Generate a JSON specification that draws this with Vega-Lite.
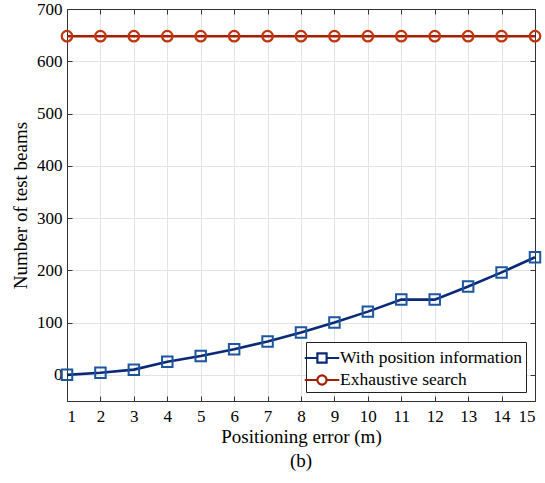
{
  "$schema": "https://vega.github.io/schema/vega-lite/v6.json",
  "width": 468,
  "height": 392,
  "autosize": {"type": "none"},
  "padding": {"left": 67, "top": 9, "right": 10, "bottom": 82},
  "background": "white",
  "title": {"text": "(b)", "orient": "bottom", "font": "Liberation Serif", "fontSize": 19, "fontWeight": "normal", "color": "black", "offset": 6},
  "data": {"values": [
    {"x": 1, "y": 0, "s": "With position information"},
    {"x": 2, "y": 4, "s": "With position information"},
    {"x": 3, "y": 10, "s": "With position information"},
    {"x": 4, "y": 25, "s": "With position information"},
    {"x": 5, "y": 36, "s": "With position information"},
    {"x": 6, "y": 49, "s": "With position information"},
    {"x": 7, "y": 64, "s": "With position information"},
    {"x": 8, "y": 81, "s": "With position information"},
    {"x": 9, "y": 100, "s": "With position information"},
    {"x": 10, "y": 121, "s": "With position information"},
    {"x": 11, "y": 144, "s": "With position information"},
    {"x": 12, "y": 144, "s": "With position information"},
    {"x": 13, "y": 169, "s": "With position information"},
    {"x": 14, "y": 196, "s": "With position information"},
    {"x": 15, "y": 225, "s": "With position information"},
    {"x": 1, "y": 648, "s": "Exhaustive search"},
    {"x": 2, "y": 648, "s": "Exhaustive search"},
    {"x": 3, "y": 648, "s": "Exhaustive search"},
    {"x": 4, "y": 648, "s": "Exhaustive search"},
    {"x": 5, "y": 648, "s": "Exhaustive search"},
    {"x": 6, "y": 648, "s": "Exhaustive search"},
    {"x": 7, "y": 648, "s": "Exhaustive search"},
    {"x": 8, "y": 648, "s": "Exhaustive search"},
    {"x": 9, "y": 648, "s": "Exhaustive search"},
    {"x": 10, "y": 648, "s": "Exhaustive search"},
    {"x": 11, "y": 648, "s": "Exhaustive search"},
    {"x": 12, "y": 648, "s": "Exhaustive search"},
    {"x": 13, "y": 648, "s": "Exhaustive search"},
    {"x": 14, "y": 648, "s": "Exhaustive search"},
    {"x": 15, "y": 648, "s": "Exhaustive search"}
  ]},
  "encoding": {
    "x": {"field": "x", "type": "quantitative", "scale": {"domain": [1, 15], "nice": false, "zero": false}, "axis": null},
    "y": {"field": "y", "type": "quantitative", "scale": {"domain": [-50, 700], "nice": false, "zero": false}, "axis": null}
  },
  "layer": [
    {
      "mark": {"type": "rule", "opacity": 0},
      "encoding": {
        "x": {"field": "x", "type": "quantitative", "axis": {"orient": "bottom", "values": [1,2,3,4,5,6,7,8,9,10,11,12,13,14,15], "title": "Positioning error (m)", "grid": true, "tickSize": -5, "labelPadding": 12, "titlePadding": 3, "labelOverlap": false}},
        "y": {"field": "y", "type": "quantitative", "axis": {"orient": "left", "values": [0,100,200,300,400,500,600,700], "title": "Number of test beams", "grid": true, "tickSize": -5, "labelPadding": 10, "titlePadding": 6, "labelOverlap": false, "labelBound": false, "labelFlush": false}}
      }
    },
    {
      "mark": {"type": "rule", "opacity": 0},
      "encoding": {
        "x": {"field": "x", "type": "quantitative", "axis": {"orient": "top", "values": [1,2,3,4,5,6,7,8,9,10,11,12,13,14,15], "title": null, "labels": false, "grid": false, "tickSize": -5}},
        "y": {"field": "y", "type": "quantitative", "axis": {"orient": "right", "values": [0,100,200,300,400,500,600,700], "title": null, "labels": false, "grid": false, "tickSize": -5}}
      }
    },
    {
      "transform": [{"filter": "datum.s === 'With position information'"}],
      "mark": {"type": "line", "color": "#0a2a78", "strokeWidth": 2.6},
      "encoding": {}
    },
    {
      "transform": [{"filter": "datum.s === 'Exhaustive search'"}],
      "mark": {"type": "line", "color": "#a51e00", "strokeWidth": 2.6},
      "encoding": {}
    },
    {
      "transform": [{"filter": "datum.s === 'With position information'"}],
      "mark": {"type": "point", "shape": "square", "filled": false, "color": "#1d56a0", "size": 110, "strokeWidth": 2, "opacity": 1},
      "encoding": {}
    },
    {
      "transform": [{"filter": "datum.s === 'Exhaustive search'"}],
      "mark": {"type": "point", "shape": "circle", "filled": false, "color": "#c0350c", "size": 110, "strokeWidth": 2.2, "opacity": 1},
      "encoding": {}
    },
    {
      "mark": {"type": "point", "filled": false, "opacity": 0, "strokeWidth": 2.2},
      "encoding": {
        "stroke": {"field": "s", "type": "nominal", "scale": {"domain": ["With position information", "Exhaustive search"], "range": ["#0a2a78", "#a51e00"]}, "legend": {"title": null}},
        "shape": {"field": "s", "type": "nominal", "scale": {"domain": ["With position information", "Exhaustive search"], "range": ["M-1.5,0H-0.4M0.4,0H1.5M-0.4,-0.4H0.4V0.4H-0.4Z", "M-1.5,0H-0.4M0.4,0H1.5M0.4,0A0.4,0.4 0 1,1 -0.4,0A0.4,0.4 0 1,1 0.4,0Z"]}, "legend": {"title": null}}
      }
    }
  ],
  "resolve": {"axis": {"x": "independent", "y": "independent"}},
  "config": {
    "font": "Liberation Serif",
    "view": {"stroke": "#444", "strokeWidth": 1},
    "axis": {
      "labelFont": "Liberation Serif", "labelFontSize": 17, "labelColor": "black",
      "titleFont": "Liberation Serif", "titleFontSize": 19, "titleColor": "black", "titleFontWeight": "normal",
      "domainColor": "#333", "tickColor": "#333", "gridColor": "#e3e3e3", "gridOpacity": 1
    },
    "legend": {
      "orient": "none", "legendX": 239, "legendY": 333,
      "labelFont": "Liberation Serif", "labelFontSize": 17.5, "labelColor": "black",
      "symbolSize": 529, "symbolOpacity": 1, "symbolStrokeWidth": 2.2, "symbolFillColor": "transparent",
      "strokeColor": "#222", "fillColor": "white", "padding": 3, "rowPadding": 0, "labelOffset": 5, "labelLimit": 300
    }
  }
}
